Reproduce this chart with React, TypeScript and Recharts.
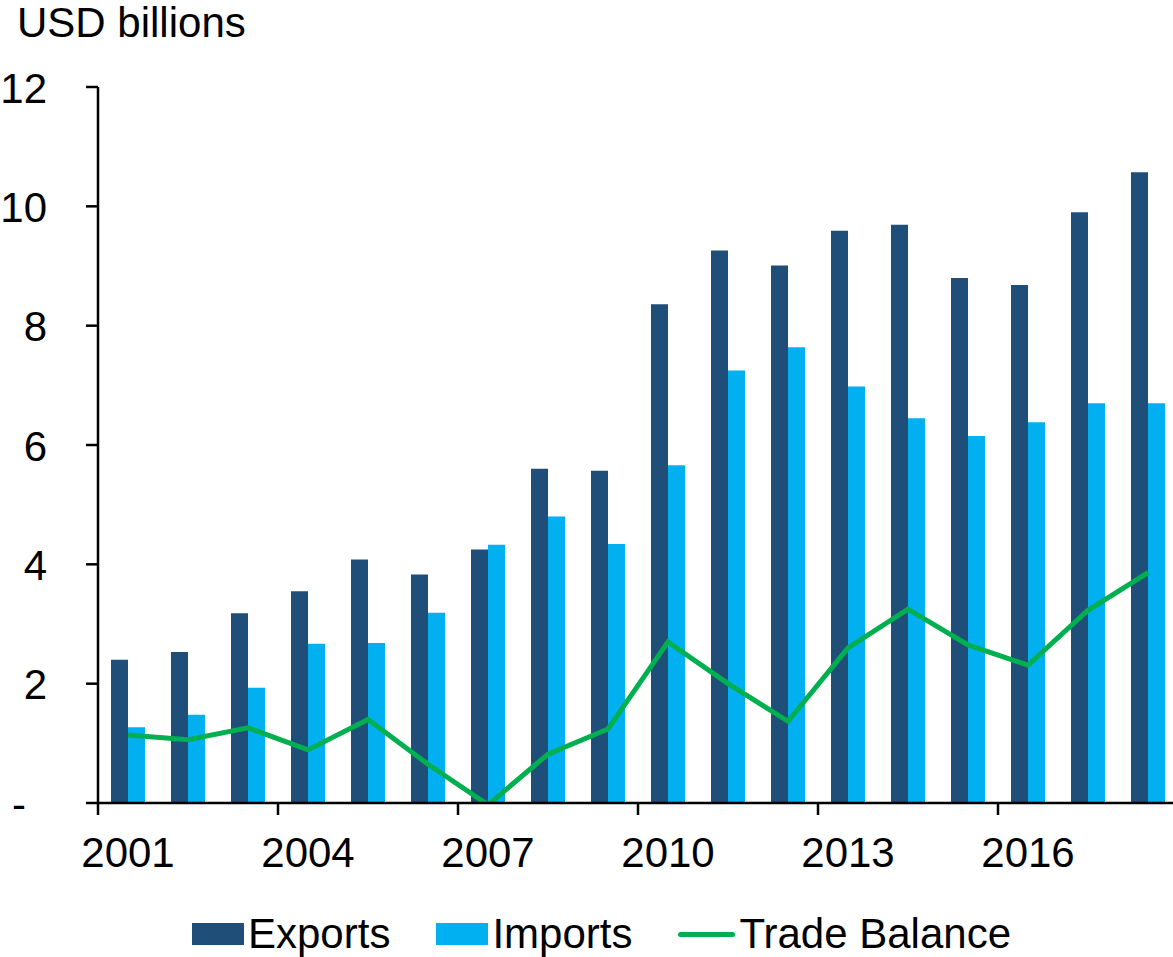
import React from 'react';
import { ComposedChart, Bar, Line, XAxis, YAxis, Legend } from 'recharts';

const FONT = '"Liberation Sans", Arial, sans-serif';

const years = [
  '2001', '2002', '2003', '2004', '2005', '2006', '2007', '2008', '2009',
  '2010', '2011', '2012', '2013', '2014', '2015', '2016', '2017', '2018',
];
const exportsBn = [2.4, 2.53, 3.18, 3.55, 4.08, 3.83, 4.25, 5.6, 5.57, 8.36, 9.26, 9.01, 9.59, 9.69, 8.8, 8.68, 9.9, 10.57];
const importsBn = [1.27, 1.48, 1.93, 2.67, 2.68, 3.19, 4.33, 4.8, 4.34, 5.66, 7.25, 7.64, 6.98, 6.45, 6.15, 6.38, 6.7, 6.7];
const tradeBalance = [1.14, 1.06, 1.26, 0.89, 1.4, 0.65, -0.03, 0.82, 1.24, 2.7, 2.0, 1.37, 2.6, 3.25, 2.65, 2.31, 3.23, 3.86];
const yTicks = [0, 2, 4, 6, 8, 10, 12];

const data = years.map((year, i) => ({
  year,
  exports: exportsBn[i],
  imports: importsBn[i],
  balance: tradeBalance[i],
}));

const CHART_W = 1180;
const Y_AXIS_W = 98;
const MARGIN_RIGHT = 2;
const BAND = (CHART_W - Y_AXIS_W - MARGIN_RIGHT) / years.length;

const XTick = (props: any) => {
  const { x, y, payload } = props;
  const edge = x - BAND / 2;
  return (
    <g>
      <line x1={edge} x2={edge} y1={y - 12} y2={y} stroke="#000" strokeWidth={2.5} />
      <text x={x} y={y + 52} textAnchor="middle" fontSize={42} fontFamily={FONT} fill="#000">
        {payload.value}
      </text>
    </g>
  );
};

const YTick = (props: any) => {
  const { x, y, payload } = props;
  const zero = payload.value === 0;
  return (
    <text
      x={zero ? x - 21 : x}
      y={y}
      dy={15.5}
      textAnchor="end"
      fontSize={42}
      fontFamily={FONT}
      fill="#000"
    >
      {zero ? '-' : payload.value}
    </text>
  );
};

const renderLegend = (props: any) => {
  const { payload } = props;
  return (
    <div
      style={{
        display: 'flex',
        alignItems: 'center',
        paddingLeft: 192,
        height: 52,
        fontFamily: FONT,
        fontSize: 42,
        color: '#000',
      }}
    >
      {payload.map((entry: any, i: number) => (
        <div key={i} style={{ display: 'flex', alignItems: 'center', marginRight: 46 }}>
          {entry.type === 'line' ? (
            <span style={{ display: 'inline-block', width: 57, height: 5, borderRadius: 3, background: entry.color }} />
          ) : (
            <span style={{ display: 'inline-block', width: 52, height: 22, background: entry.color }} />
          )}
          <span style={{ marginLeft: 4, lineHeight: '42px', whiteSpace: 'nowrap' }}>{entry.value}</span>
        </div>
      ))}
    </div>
  );
};

const App: React.FC = () => {
  return (
    <div style={{ position: 'absolute', left: 0, top: 0, width: 1173, height: 957, overflow: 'hidden', background: '#fff' }}>
      <ComposedChart
        width={CHART_W}
        height={957}
        data={data}
        margin={{ top: 87, right: MARGIN_RIGHT, left: 0, bottom: 0 }}
        barGap={0}
      >
        <XAxis
          dataKey="year"
          interval={2}
          height={102}
          tickLine={false}
          tickSize={12}
          tickMargin={0}
          axisLine={{ stroke: '#000', strokeWidth: 2.5 }}
          tick={<XTick />}
        />
        <YAxis
          width={Y_AXIS_W}
          domain={[0, 12]}
          ticks={yTicks}
          allowDataOverflow
          tickSize={12}
          tickMargin={39}
          tickLine={{ stroke: '#000', strokeWidth: 2.5 }}
          axisLine={{ stroke: '#000', strokeWidth: 2.5 }}
          tick={<YTick />}
          label={{
            content: (p: any) => (
              <text
                x={p.viewBox.x + 17}
                y={p.viewBox.y - 50}
                textAnchor="start"
                fontSize={42}
                fontFamily={FONT}
                fill="#000"
              >
                USD billions
              </text>
            ),
          }}
        />
        <Legend
          verticalAlign="bottom"
          content={renderLegend}
          wrapperStyle={{ top: 908, bottom: 'auto', left: 0, width: 1173 }}
        />
        <Bar dataKey="exports" name="Exports" fill="#1F4E79" barSize={17} isAnimationActive={false} />
        <Bar dataKey="imports" name="Imports" fill="#00B0F0" barSize={17} isAnimationActive={false} />
        <Line
          dataKey="balance"
          name="Trade Balance"
          type="linear"
          stroke="#00B050"
          strokeWidth={5}
          dot={false}
          activeDot={false}
          isAnimationActive={false}
        />
      </ComposedChart>
    </div>
  );
};

export default App;
